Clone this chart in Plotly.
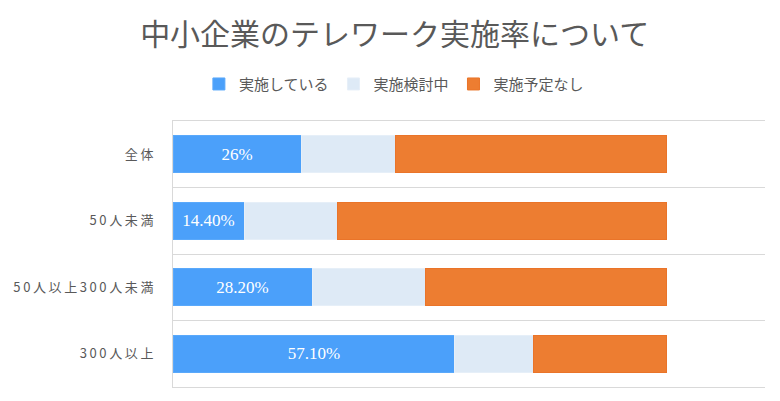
import plotly.graph_objects as go

categories = ["全体", "50人未満", "50人以上300人未満", "300人以上"]
implemented = [26.0, 14.4, 28.2, 57.1]
considering = [19.0, 19.0, 23.0, 16.0]
no_plan = [55.0, 66.6, 48.8, 26.9]
impl_labels = ["26%", "14.40%", "28.20%", "57.10%"]
series_names = ["実施している", "実施検討中", "実施予定なし"]

tick_text = ["\u2009".join(list(c)) for c in categories]

fig = go.Figure()
fig.add_trace(go.Bar(
    y=categories, x=implemented, name=series_names[0], orientation="h",
    marker=dict(color="#4BA0FA", line=dict(color="#5aa9fb", width=1)),
    text=impl_labels, textposition="inside", insidetextanchor="middle",
    textfont=dict(family="Liberation Serif", size=17, color="white"),
    hoverinfo="skip",
))
fig.add_trace(go.Bar(
    y=categories, x=considering, name=series_names[1], orientation="h",
    marker=dict(color="#DEEAF6", line=dict(color="#e6eff8", width=1)),
    hoverinfo="skip",
))
fig.add_trace(go.Bar(
    y=categories, x=no_plan, name=series_names[2], orientation="h",
    marker=dict(color="#ED7D31", line=dict(color="#EA7429", width=1)),
    hoverinfo="skip",
))

fig.update_layout(
    width=780, height=401,
    barmode="stack", bargap=0.45,
    paper_bgcolor="white", plot_bgcolor="white",
    margin=dict(l=173, r=15, t=121, b=14),
    font=dict(family="Noto Sans CJK JP", color="#595959"),
    title=dict(
        text="中小企業のテレワーク実施率について",
        font=dict(family="Noto Sans CJK JP", size=30, color="#595959"),
        x=0.506, xref="container", xanchor="center",
        y=0.915, yref="container", yanchor="middle",
    ),
    legend=dict(
        orientation="h", xref="container", yref="container",
        x=0.505, xanchor="center", y=0.79, yanchor="middle",
        font=dict(family="Noto Sans CJK JP", size=15, color="#595959"),
        traceorder="normal",
    ),
    xaxis=dict(
        range=[0, 120], showticklabels=False, showgrid=False,
        zeroline=False, fixedrange=True,
        showline=True, mirror=True, linecolor="#D9D9D9", linewidth=1,
    ),
    yaxis=dict(
        categoryorder="array", categoryarray=categories,
        autorange="reversed", tickson="boundaries", ticks="",
        tickmode="array", tickvals=categories, ticktext=tick_text,
        showgrid=True, gridcolor="#D9D9D9", gridwidth=1,
        showline=True, linecolor="#D9D9D9", linewidth=1,
        tickfont=dict(family="Noto Sans CJK JP", size=13, color="#595959"),
        ticklabelstandoff=16,
    ),
)

fig.write_html("out.html")
